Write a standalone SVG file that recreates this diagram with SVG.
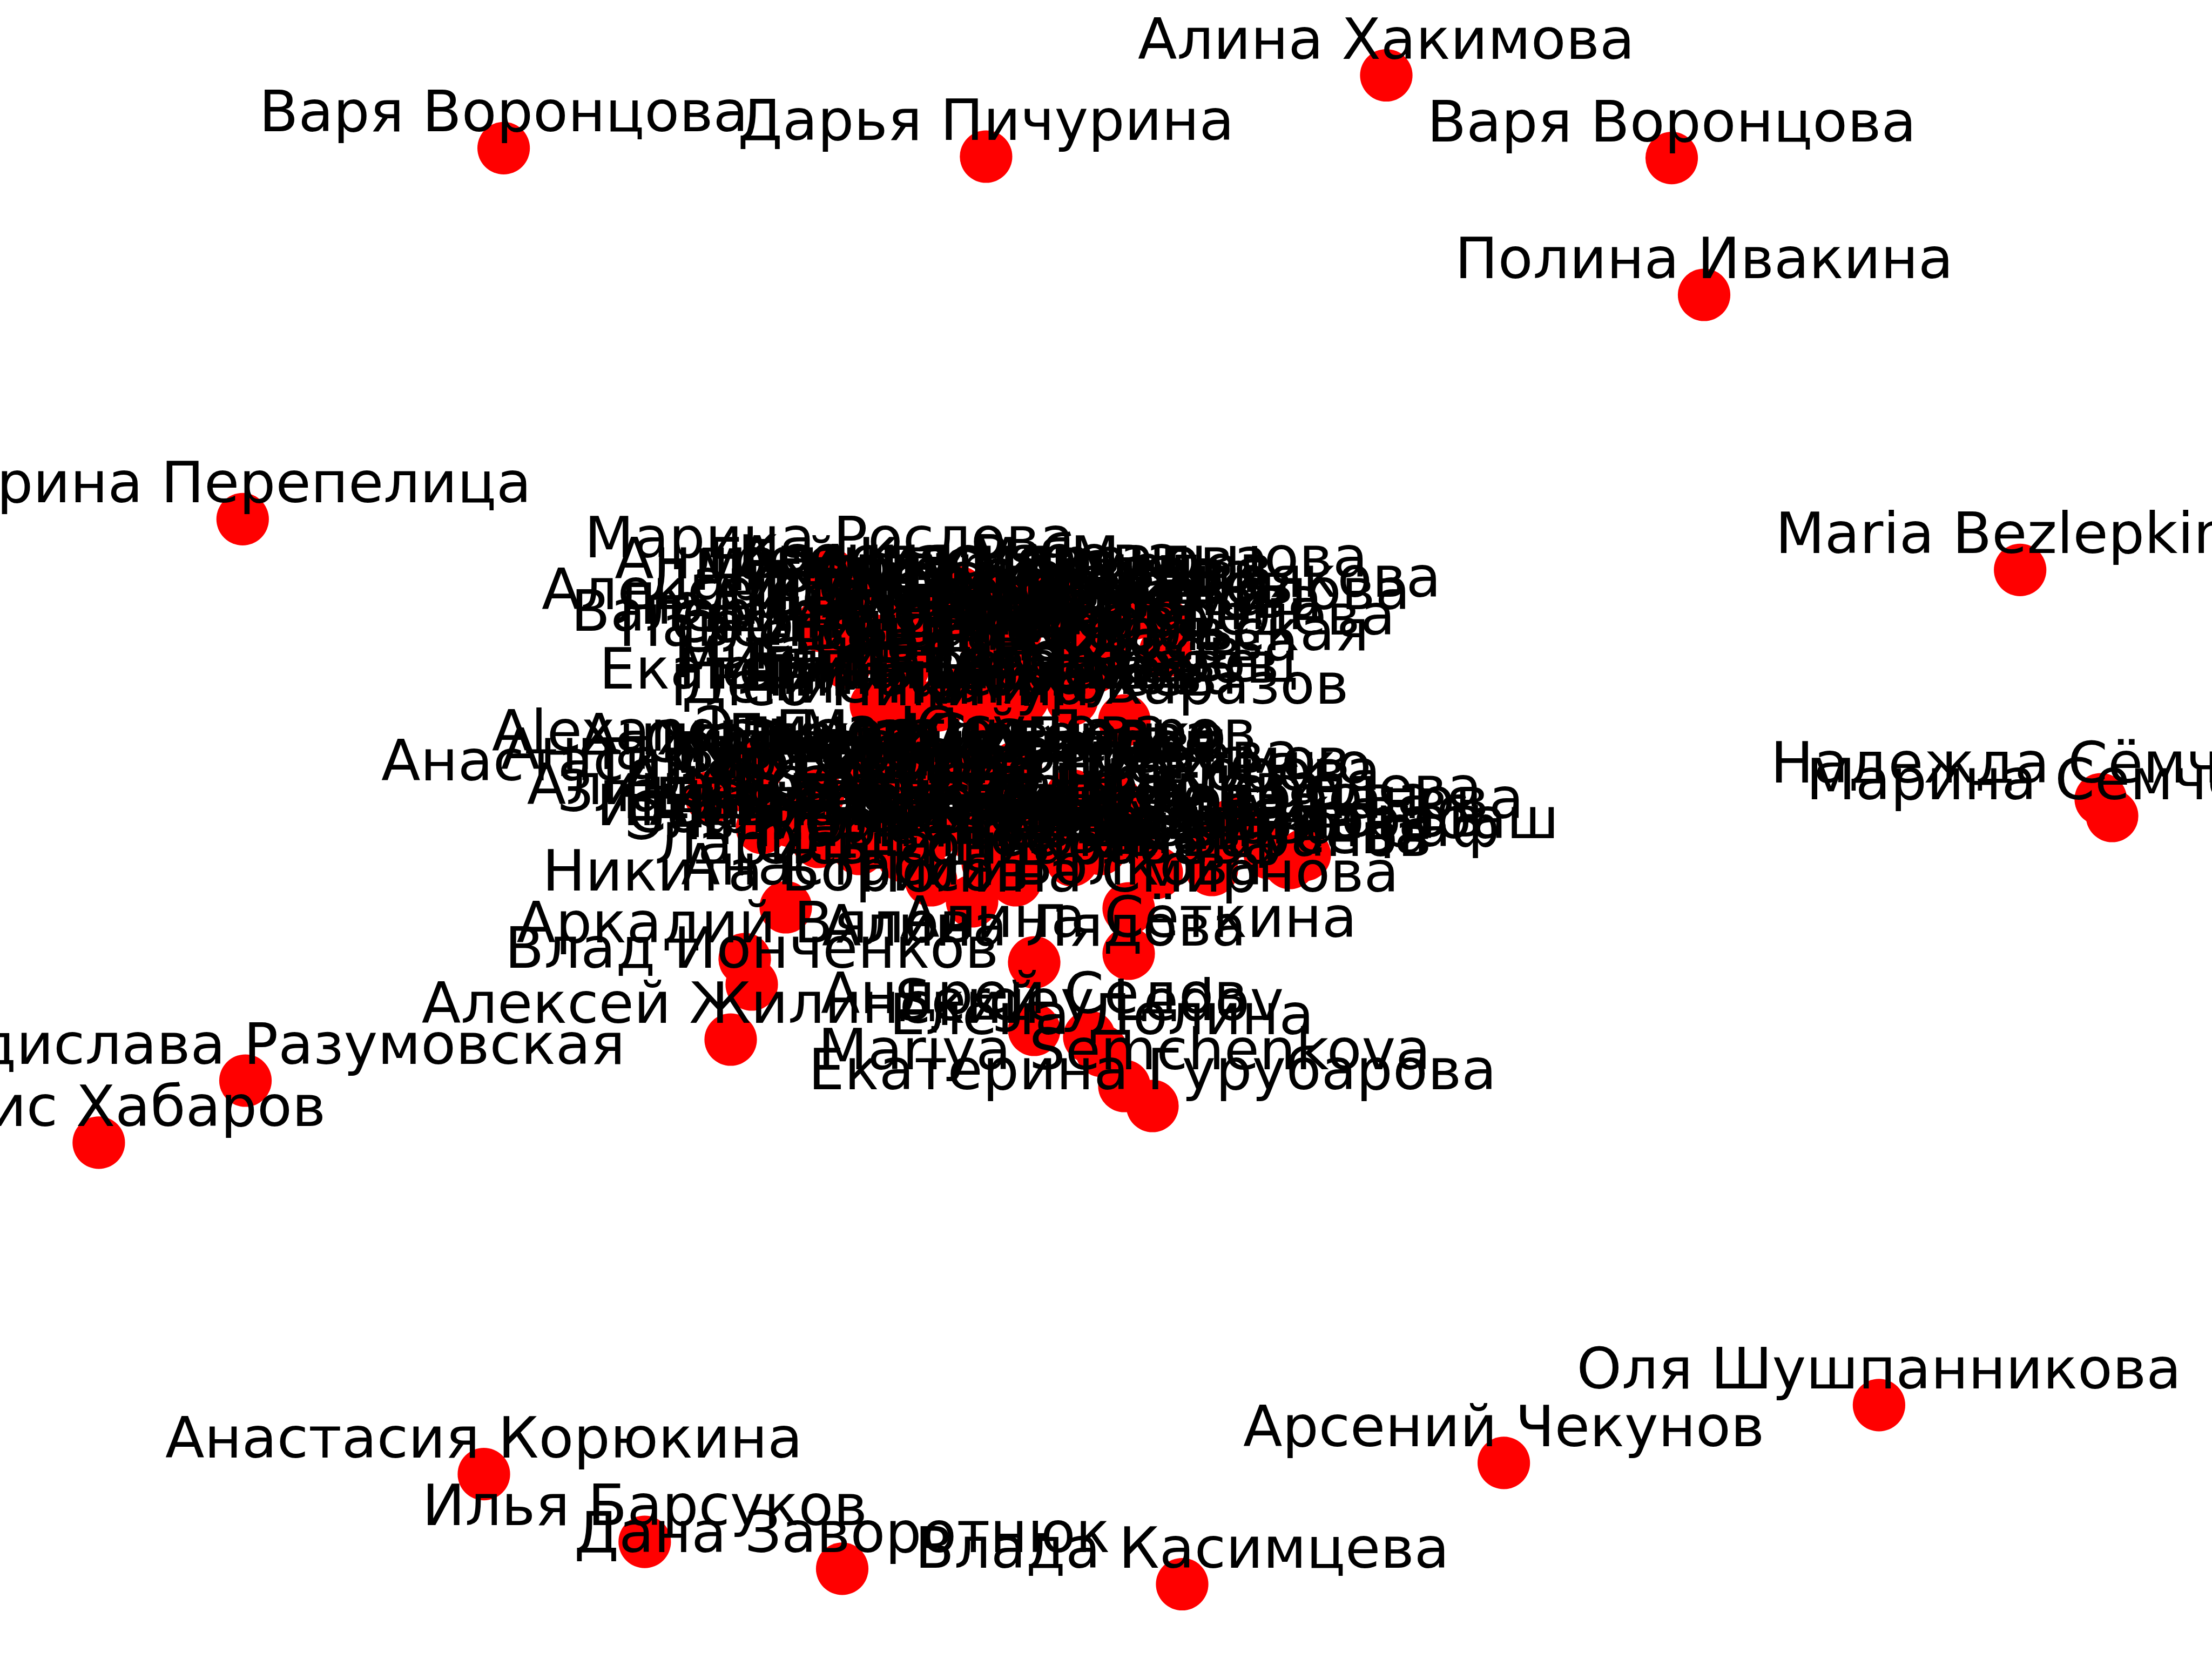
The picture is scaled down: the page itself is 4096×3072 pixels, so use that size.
<svg xmlns="http://www.w3.org/2000/svg" width="4096" height="3072" viewBox="0 0 4096 3072">
<style>
.n{fill:#ff0000}
.l{font-family:"DejaVu Sans","Noto Sans",sans-serif;font-size:106px;fill:#000;text-anchor:middle}
.e{stroke:#000;stroke-width:8;stroke-dasharray:8 13;fill:none}
</style>
<rect width="4096" height="3072" fill="#ffffff"/>
<g id="edges">
<line class="e" x1="1873" y1="1286" x2="2000" y2="1478"/>
<line class="e" x1="1903" y1="1293" x2="2026" y2="1478"/>
</g>
<g id="nodes">
<g id="n1"><circle class="n" cx="932.6" cy="274.3" r="48.6"/></g>
<g id="n2"><circle class="n" cx="1825.9" cy="290" r="48.6"/></g>
<g id="n3"><circle class="n" cx="2567" cy="139.5" r="48.6"/></g>
<g id="n4"><circle class="n" cx="3095.5" cy="292.6" r="48.6"/></g>
<g id="n5"><circle class="n" cx="3155.5" cy="546" r="48.6"/></g>
<g id="n6"><circle class="n" cx="449.3" cy="961.3" r="48.6"/></g>
<g id="n7"><circle class="n" cx="3740.7" cy="1055.3" r="48.6"/></g>
<g id="n8"><circle class="n" cx="3890" cy="1480" r="48.6"/></g>
<g id="n9"><circle class="n" cx="3911" cy="1511" r="48.6"/></g>
<g id="n10"><circle class="n" cx="454.5" cy="2001" r="48.6"/></g>
<g id="n11"><circle class="n" cx="182.9" cy="2115.9" r="48.6"/></g>
<g id="n12"><circle class="n" cx="896" cy="2729.7" r="48.6"/></g>
<g id="n13"><circle class="n" cx="1193.8" cy="2855.1" r="48.6"/></g>
<g id="n14"><circle class="n" cx="1559.5" cy="2904.8" r="48.6"/></g>
<g id="n15"><circle class="n" cx="2189" cy="2933.5" r="48.6"/></g>
<g id="n16"><circle class="n" cx="2784.6" cy="2708.9" r="48.6"/></g>
<g id="n17"><circle class="n" cx="3479.4" cy="2601.8" r="48.6"/></g>
<g id="nL1"><circle class="n" cx="1455" cy="1680" r="48.6"/></g>
<g id="nL2"><circle class="n" cx="1379" cy="1776" r="48.6"/></g>
<g id="nL3"><circle class="n" cx="1392" cy="1823" r="48.6"/></g>
<g id="nL4"><circle class="n" cx="1353" cy="1925" r="48.6"/></g>
<g id="nL5"><circle class="n" cx="2090" cy="1766" r="48.6"/></g>
<g id="nL6"><circle class="n" cx="1915" cy="1782" r="48.6"/></g>
<g id="nL7"><circle class="n" cx="1915" cy="1907" r="48.6"/></g>
<g id="nL8"><circle class="n" cx="2017" cy="1920" r="48.6"/></g>
<g id="nL9"><circle class="n" cx="2040" cy="1946" r="48.6"/></g>
<g id="nL10"><circle class="n" cx="2082" cy="2011" r="48.6"/></g>
<g id="nL11"><circle class="n" cx="2134" cy="2048" r="48.6"/></g>
<g id="nL12"><circle class="n" cx="1800" cy="1669" r="48.6"/></g>
<g id="nT1"><circle class="n" cx="1536" cy="1063" r="48.6"/></g>
<g id="nT2"><circle class="n" cx="1949" cy="1099" r="48.6"/></g>
<g id="nT3"><circle class="n" cx="2100" cy="1136" r="48.6"/></g>
<g id="nT4"><circle class="n" cx="1520" cy="1159" r="48.6"/></g>
<g id="nT5"><circle class="n" cx="1578" cy="1199" r="48.6"/></g>
<g id="nT6"><circle class="n" cx="1622" cy="1306" r="48.6"/></g>
<g id="nT7"><circle class="n" cx="1630" cy="1337" r="48.6"/></g>
<g id="nT8"><circle class="n" cx="2082" cy="1334" r="48.6"/></g>
<g id="nT9"><circle class="n" cx="2160" cy="1159" r="48.6"/></g>
<g id="nT10"><circle class="n" cx="2158" cy="1206" r="48.6"/></g>
<g id="nT11"><circle class="n" cx="2027" cy="1235" r="48.6"/></g>
<g id="nT12"><circle class="n" cx="1573" cy="1102" r="48.6"/></g>
<g id="nT13"><circle class="n" cx="1894" cy="1293" r="48.6"/></g>
<g id="nT14"><circle class="n" cx="1776" cy="1123" r="48.6"/></g>
<g id="nT15"><circle class="n" cx="1698" cy="1180" r="48.6"/></g>
<g id="nT16"><circle class="n" cx="1881" cy="1233" r="48.6"/></g>
<g id="nT17"><circle class="n" cx="1737" cy="1306" r="48.6"/></g>
<g id="nT18"><circle class="n" cx="1802" cy="1149" r="48.6"/></g>
<g id="nT19"><circle class="n" cx="1985" cy="1175" r="48.6"/></g>
<g id="nT20"><circle class="n" cx="1672" cy="1220" r="48.6"/></g>
<g id="nT21"><circle class="n" cx="1829" cy="1319" r="48.6"/></g>
<g id="nN1"><circle class="n" cx="1829" cy="1102" r="48.6"/></g>
<g id="nN2"><circle class="n" cx="1776" cy="1097" r="48.6"/></g>
<g id="nN3"><circle class="n" cx="1933" cy="1115" r="48.6"/></g>
<g id="nN4"><circle class="n" cx="1698" cy="1141" r="48.6"/></g>
<g id="nN5"><circle class="n" cx="1985" cy="1149" r="48.6"/></g>
<g id="nN6"><circle class="n" cx="1881" cy="1170" r="48.6"/></g>
<g id="nN7"><circle class="n" cx="1620" cy="1186" r="48.6"/></g>
<g id="nN8"><circle class="n" cx="2038" cy="1196" r="48.6"/></g>
<g id="nN9"><circle class="n" cx="1829" cy="1212" r="48.6"/></g>
<g id="nN10"><circle class="n" cx="1672" cy="1238" r="48.6"/></g>
<g id="nN11"><circle class="n" cx="1985" cy="1254" r="48.6"/></g>
<g id="nN12"><circle class="n" cx="1802" cy="1269" r="48.6"/></g>
<g id="nN13"><circle class="n" cx="1672" cy="1285" r="48.6"/></g>
<g id="nN14"><circle class="n" cx="1985" cy="1295" r="48.6"/></g>
<g id="nN15"><circle class="n" cx="1829" cy="1316" r="48.6"/></g>
<g id="nN16"><circle class="n" cx="1685" cy="1332" r="48.6"/></g>
<g id="nN17"><circle class="n" cx="1881" cy="1128" r="48.6"/></g>
<g id="nN18"><circle class="n" cx="1567" cy="1227" r="48.6"/></g>
<g id="nM1"><circle class="n" cx="1317" cy="1476" r="48.6"/></g>
<g id="nM2"><circle class="n" cx="1403" cy="1421" r="48.6"/></g>
<g id="nM3"><circle class="n" cx="1379" cy="1455" r="48.6"/></g>
<g id="nM4"><circle class="n" cx="1591" cy="1572" r="48.6"/></g>
<g id="nM5"><circle class="n" cx="2286" cy="1525" r="48.6"/></g>
<g id="nM6"><circle class="n" cx="2416" cy="1583" r="48.6"/></g>
<g id="nM7"><circle class="n" cx="2040" cy="1494" r="48.6"/></g>
<g id="nM8"><circle class="n" cx="2244" cy="1611" r="48.6"/></g>
<g id="nM9"><circle class="n" cx="2090" cy="1682" r="48.6"/></g>
<g id="nM11"><circle class="n" cx="1672" cy="1507" r="48.6"/></g>
<g id="nM12"><circle class="n" cx="1802" cy="1546" r="48.6"/></g>
<g id="nM13"><circle class="n" cx="1829" cy="1598" r="48.6"/></g>
<g id="nM14"><circle class="n" cx="1881" cy="1630" r="48.6"/></g>
<g id="nM15"><circle class="n" cx="1724" cy="1546" r="48.6"/></g>
<g id="nM16"><circle class="n" cx="1829" cy="1442" r="48.6"/></g>
<g id="nM17"><circle class="n" cx="1829" cy="1462" r="48.6"/></g>
<g id="nM18"><circle class="n" cx="2038" cy="1572" r="48.6"/></g>
<g id="nM19"><circle class="n" cx="2090" cy="1541" r="48.6"/></g>
<g id="nM20"><circle class="n" cx="1620" cy="1559" r="48.6"/></g>
<g id="nM21"><circle class="n" cx="1933" cy="1559" r="48.6"/></g>
<g id="nM22"><circle class="n" cx="2246" cy="1585" r="48.6"/></g>
<g id="nM23"><circle class="n" cx="2388" cy="1598" r="48.6"/></g>
<g id="nM24"><circle class="n" cx="1463" cy="1520" r="48.6"/></g>
<g id="nM25"><circle class="n" cx="1620" cy="1442" r="48.6"/></g>
<g id="nM26"><circle class="n" cx="1724" cy="1415" r="48.6"/></g>
<g id="nP1"><circle class="n" cx="1672" cy="1428" r="48.6"/></g>
<g id="nP2"><circle class="n" cx="1881" cy="1421" r="48.6"/></g>
<g id="nP3"><circle class="n" cx="1802" cy="1428" r="48.6"/></g>
<g id="nP4"><circle class="n" cx="1515" cy="1473" r="48.6"/></g>
<g id="nP5"><circle class="n" cx="1985" cy="1473" r="48.6"/></g>
<g id="nP6"><circle class="n" cx="2064" cy="1481" r="48.6"/></g>
<g id="nP7"><circle class="n" cx="1411" cy="1533" r="48.6"/></g>
<g id="nP8"><circle class="n" cx="1881" cy="1520" r="48.6"/></g>
<g id="nP9"><circle class="n" cx="2273" cy="1546" r="48.6"/></g>
<g id="nP10"><circle class="n" cx="1515" cy="1559" r="48.6"/></g>
<g id="nP11"><circle class="n" cx="1985" cy="1593" r="48.6"/></g>
<g id="nP12"><circle class="n" cx="2351" cy="1580" r="48.6"/></g>
<g id="nP13"><circle class="n" cx="1672" cy="1585" r="48.6"/></g>
<g id="nP14"><circle class="n" cx="2142" cy="1616" r="48.6"/></g>
<g id="nP15"><circle class="n" cx="1724" cy="1630" r="48.6"/></g>
<g id="nP16"><circle class="n" cx="1724" cy="1442" r="48.6"/></g>
<g id="nP17"><circle class="n" cx="1776" cy="1442" r="48.6"/></g>
<g id="nP18"><circle class="n" cx="1567" cy="1546" r="48.6"/></g>
</g>
<g id="labels">
<text class="l" x="932.6" y="243.3">Варя Воронцова</text>
<text class="l" x="1825.9" y="259">Дарья Пичурина</text>
<text class="l" x="2567" y="108.5">Алина Хакимова</text>
<text class="l" x="3095.5" y="261.6">Варя Воронцова</text>
<text class="l" x="3155.5" y="515">Полина Ивакина</text>
<text class="l" x="449.3" y="930.3">Ирина Перепелица</text>
<text class="l" x="3740.7" y="1024.3">Maria Bezlepkina</text>
<text class="l" x="3890" y="1449">Надежда Сёмченкова</text>
<text class="l" x="3911" y="1480">Марина Семченкова</text>
<text class="l" x="454.5" y="1970">Владислава Разумовская</text>
<text class="l" x="182.9" y="2085">Денис Хабаров</text>
<text class="l" x="896" y="2698.7">Анастасия Корюкина</text>
<text class="l" x="1193.8" y="2824">Илья Барсуков</text>
<text class="l" x="1559.5" y="2873.8">Дана Заворотнюк</text>
<text class="l" x="2189" y="2902.5">Влада Касимцева</text>
<text class="l" x="2784.6" y="2678">Арсений Чекунов</text>
<text class="l" x="3479.4" y="2570.8">Оля Шушпанникова</text>
<text class="l" x="1455" y="1649">Никита Борисов</text>
<text class="l" x="1379" y="1745">Аркадий Вялов</text>
<text class="l" x="1392" y="1792">Влад Ионченков</text>
<text class="l" x="1353" y="1894">Алексей Жилинский</text>
<text class="l" x="2090" y="1735">Алина Сёткина</text>
<text class="l" x="1915" y="1751">Алина Лядова</text>
<text class="l" x="1915" y="1876">Андрей Седов</text>
<text class="l" x="2017" y="1889">Sergey Ledov</text>
<text class="l" x="2040" y="1915">Елена Долина</text>
<text class="l" x="2082" y="1980">Mariya Semchenkova</text>
<text class="l" x="2134" y="2017">Екатерина Гурубарова</text>
<text class="l" x="1800" y="1638">Анастасия Волкова</text>
<text class="l" x="1536" y="1032">Марина Рослова</text>
<text class="l" x="1949" y="1068">Анастасия Мальцова</text>
<text class="l" x="2100" y="1105">Ангелина Ширякова</text>
<text class="l" x="1520" y="1128">Алексей Воронцов</text>
<text class="l" x="1578" y="1168">Валерия Морозова</text>
<text class="l" x="1622" y="1275">Екатерина Белова</text>
<text class="l" x="1630" y="1306">Глеб Никитин</text>
<text class="l" x="2082" y="1303">Тимур Харазов</text>
<text class="l" x="2160" y="1128">Дарья Соколова</text>
<text class="l" x="2158" y="1175">Кира Лебедева</text>
<text class="l" x="2027" y="1204">Ольга Ковальская</text>
<text class="l" x="1573" y="1071">Андрей Климов</text>
<text class="l" x="1894" y="1262">Елизавета Кравец</text>
<text class="l" x="1776" y="1092">Михаил Соловьёв</text>
<text class="l" x="1698" y="1149">Анна Павлова</text>
<text class="l" x="1881" y="1202">Вадим Егоров</text>
<text class="l" x="1737" y="1275">Полина Тарасова</text>
<text class="l" x="1802" y="1118">Игорь Семёнов</text>
<text class="l" x="1985" y="1144">Алёна Миронова</text>
<text class="l" x="1672" y="1189">Софья Белкина</text>
<text class="l" x="1829" y="1288">Тимофей Гусев</text>
<text class="l" x="1829" y="1071">Евгения Миронова</text>
<text class="l" x="1776" y="1066">Ксения Рябова</text>
<text class="l" x="1933" y="1084">Артур Ахмедов</text>
<text class="l" x="1698" y="1110">Дарина Федотова</text>
<text class="l" x="1985" y="1118">Максим Ершов</text>
<text class="l" x="1881" y="1139">Вера Щербакова</text>
<text class="l" x="1620" y="1155">Людмила Орлова</text>
<text class="l" x="2038" y="1165">Роман Фомин</text>
<text class="l" x="1829" y="1181">Яна Белоусова</text>
<text class="l" x="1672" y="1207">Олег Дьяконов</text>
<text class="l" x="1985" y="1223">Карина Лосева</text>
<text class="l" x="1802" y="1238">Станислав Жуков</text>
<text class="l" x="1672" y="1254">Милана Титова</text>
<text class="l" x="1985" y="1264">Егор Макаров</text>
<text class="l" x="1829" y="1285">Лилия Абрамова</text>
<text class="l" x="1685" y="1301">Денис Поляков</text>
<text class="l" x="1881" y="1097">Вероника Зуева</text>
<text class="l" x="1567" y="1196">Павел Рыбаков</text>
<text class="l" x="1317" y="1445">Анастасия Корнилова</text>
<text class="l" x="1403" y="1390">Alexandra Morales</text>
<text class="l" x="1379" y="1424">Анна Кузнецова</text>
<text class="l" x="1591" y="1541">София Петрова</text>
<text class="l" x="2286" y="1494">Дарья Лебедева</text>
<text class="l" x="2416" y="1552">Никита Карабаш</text>
<text class="l" x="2040" y="1463">Ксения Прохорова</text>
<text class="l" x="2244" y="1580">Ульяна Гусева</text>
<text class="l" x="2090" y="1651">Полина Смирнова</text>
<text class="l" x="1672" y="1476">Александр Волков</text>
<text class="l" x="1802" y="1515">Екатерина Смирнова</text>
<text class="l" x="1829" y="1567">Мария Иванова</text>
<text class="l" x="1881" y="1599">Ольга Николаева</text>
<text class="l" x="1724" y="1515">Дмитрий Орлов</text>
<text class="l" x="1829" y="1411">Татьяна Белова</text>
<text class="l" x="1829" y="1431">Виктория Соловьёва</text>
<text class="l" x="2038" y="1541">Сергей Кузьмин</text>
<text class="l" x="2090" y="1510">Кристина Фёдорова</text>
<text class="l" x="1620" y="1528">Артём Захаров</text>
<text class="l" x="1933" y="1528">Наталья Морозова</text>
<text class="l" x="2246" y="1554">Юлия Павлова</text>
<text class="l" x="2388" y="1567">Евгений Граф</text>
<text class="l" x="1463" y="1489">Алина Родионова</text>
<text class="l" x="1620" y="1411">Мирон Зайцев</text>
<text class="l" x="1724" y="1384">Элина Юсупова</text>
<text class="l" x="1672" y="1397">Анжелика Кравченко</text>
<text class="l" x="1881" y="1390">Георгий Лавров</text>
<text class="l" x="1802" y="1397">Елена Сидорова</text>
<text class="l" x="1515" y="1442">Тамара Котова</text>
<text class="l" x="1985" y="1442">Руслан Ибрагимов</text>
<text class="l" x="2064" y="1450">Диана Шевченко</text>
<text class="l" x="1411" y="1502">Злата Коваль</text>
<text class="l" x="1881" y="1489">Валентина Ефимова</text>
<text class="l" x="2273" y="1515">Станислава Панова</text>
<text class="l" x="1515" y="1528">Игорь Тихонов</text>
<text class="l" x="1985" y="1562">Олеся Максимова</text>
<text class="l" x="2351" y="1549">Марк Антонов</text>
<text class="l" x="1672" y="1554">Эльвира Киселёва</text>
<text class="l" x="2142" y="1585">Вячеслав Баранов</text>
<text class="l" x="1724" y="1599">Лариса Гончарова</text>
<text class="l" x="1724" y="1411">Оксана Филиппова</text>
<text class="l" x="1776" y="1411">Фёдор Медведев</text>
<text class="l" x="1567" y="1515">Ника Голубева</text>
</g>
</svg>
